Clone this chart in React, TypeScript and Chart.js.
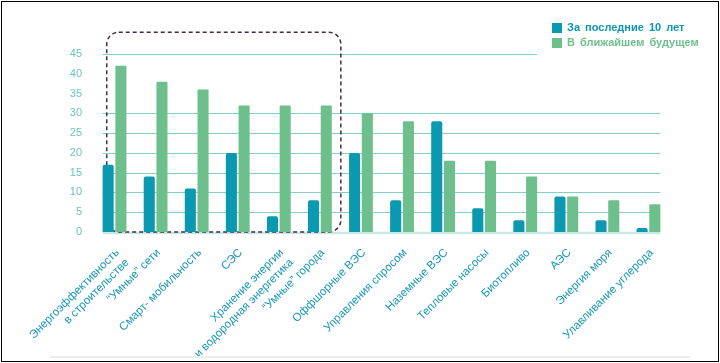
import { useEffect, useRef } from "react";
import { Chart, registerables } from "chart.js";

Chart.register(...registerables);

const categories: (string | string[])[] = [
  ["Энергоэффективность", "в строительстве"],
  "“Умные” сети",
  "Смарт- мобильность",
  "СЭС",
  ["Хранение энергии", "и водородная энергетика"],
  "“Умные” города",
  "Оффшорные ВЭС",
  "Управления спросом",
  "Наземные ВЭС",
  "Тепловые насосы",
  "Биотопливо",
  "АЭС",
  "Энергия моря",
  "Улавливание углерода",
];

const seriesNames = ["За последние 10 лет", "В ближайшем будущем"];
const last10Years = [17, 14, 11, 20, 4, 8, 20, 8, 28, 6, 3, 9, 3, 1];
const nearFuture = [42, 38, 36, 32, 32, 32, 30, 28, 18, 18, 14, 9, 8, 7];

const yTickValues = [0, 5, 10, 15, 20, 25, 30, 35, 40, 45];
const hiddenGridValues = [35, 40];
const highlightFirst = 0;
const highlightLast = 5;
const highlightTopValue = 50.5;

const TEAL = "#0a99b0";
const GREEN = "#6dc08c";
const GRID = "#84d0c6";
const BASE = "#c6e9e3";
const FRAME = "#4a2b47";
const LEGEND_LEFT = 552;
const FONT = "'Liberation Sans', Arial, sans-serif";

const customDraw = {
  id: "customDraw",
  beforeDatasetsDraw(chart: any) {
    const { ctx } = chart;
    const x = chart.scales.x;
    const y = chart.scales.y;
    const m0 = chart.getDatasetMeta(0);
    const m1 = chart.getDatasetMeta(1);
    const first = m0.data[0];
    const last = m1.data[m1.data.length - 1];
    const left = first.x - first.width / 2;
    const right = last.x + last.width / 2;
    ctx.save();
    ctx.strokeStyle = GRID;
    ctx.lineWidth = 1.2;
    yTickValues.forEach((v) => {
      if (v === 0 || hiddenGridValues.includes(v)) return;
      const py = Math.round(y.getPixelForValue(v)) + 0.5;
      const r = v === yTickValues[yTickValues.length - 1] ? LEGEND_LEFT - 15 : right;
      ctx.beginPath();
      ctx.moveTo(left, py);
      ctx.lineTo(r, py);
      ctx.stroke();
    });
    const y0 = y.getPixelForValue(0);
    ctx.strokeStyle = BASE;
    ctx.lineWidth = 2.5;
    ctx.beginPath();
    ctx.moveTo(left, y0 + 1);
    ctx.lineTo(right, y0 + 1);
    ctx.stroke();
    const cw = x.getPixelForValue(1) - x.getPixelForValue(0);
    const fl = x.getPixelForValue(highlightFirst) - 0.19 * cw;
    const fr = x.getPixelForValue(highlightLast) + 0.51 * cw;
    const ft = y.getPixelForValue(highlightTopValue);
    const fb = y0;
    const rad = 12;
    ctx.strokeStyle = FRAME;
    ctx.lineWidth = 1.5;
    ctx.setLineDash([4, 3]);
    ctx.beginPath();
    ctx.moveTo(fl + rad, ft);
    ctx.lineTo(fr - rad, ft);
    ctx.arcTo(fr, ft, fr, ft + rad, rad);
    ctx.lineTo(fr, fb - rad);
    ctx.arcTo(fr, fb, fr - rad, fb, rad);
    ctx.lineTo(fl + rad, fb);
    ctx.arcTo(fl, fb, fl, fb - rad, rad);
    ctx.lineTo(fl, ft + rad);
    ctx.arcTo(fl, ft, fl + rad, ft, rad);
    ctx.closePath();
    ctx.stroke();
    ctx.restore();
  },
};

export default function App() {
  const canvasRef = useRef<HTMLCanvasElement | null>(null);

  useEffect(() => {
    document.body.style.margin = "0";
    const canvas = canvasRef.current;
    if (!canvas) return;
    const chart = new Chart(canvas, {
      type: "bar",
      data: {
        labels: categories,
        datasets: [
          {
            label: seriesNames[0],
            data: last10Years,
            backgroundColor: TEAL,
            borderRadius: { topLeft: 2, topRight: 2 },
            borderSkipped: "start",
          },
          {
            label: seriesNames[1],
            data: nearFuture,
            backgroundColor: GREEN,
            borderRadius: { topLeft: 1, topRight: 1 },
            borderSkipped: "start",
          },
        ],
      },
      options: {
        responsive: false,
        animation: false,
        devicePixelRatio: 1,
        layout: { padding: { top: 54, right: 51, left: 0, bottom: 0 } },
        datasets: {
          bar: { categoryPercentage: 0.62, barPercentage: 0.87 },
        },
        plugins: {
          legend: { display: false },
          tooltip: { enabled: false },
        },
        scales: {
          x: {
            grid: { display: false, drawTicks: false },
            border: { display: false },
            afterFit: (s: any) => {
              s.height = 131;
            },
            ticks: {
              color: "#1797b5",
              font: { family: FONT, size: 11.5 },
              minRotation: 45,
              maxRotation: 45,
              autoSkip: false,
              padding: 14,
              labelOffset: 3,
            },
          },
          y: {
            min: 0,
            max: 45,
            grid: { display: false, drawTicks: false },
            border: { display: false },
            afterFit: (s: any) => {
              s.width = 94;
            },
            ticks: {
              stepSize: 5,
              color: "#6cc5bc",
              font: { family: FONT, size: 11 },
              padding: 12,
            },
          },
        },
      },
      plugins: [customDraw],
    });
    return () => chart.destroy();
  }, []);

  return (
    <div style={{ position: "relative", width: 720, height: 363, background: "#fff", overflow: "hidden" }}>
      <canvas ref={canvasRef} width={720} height={363} style={{ display: "block" }} />
      <div
        style={{
          position: "absolute",
          left: LEGEND_LEFT,
          top: 20,
          fontFamily: FONT,
          fontWeight: "bold",
          fontSize: 11,
          lineHeight: "15px",
        }}
      >
        {seriesNames.map((name, i) => (
          <div key={name} style={{ display: "flex", alignItems: "center", color: i === 0 ? TEAL : GREEN }}>
            <span style={{ display: "inline-block", width: 10, height: 10, background: i === 0 ? TEAL : GREEN, marginRight: 5 }} />
            <span style={{ wordSpacing: 2 }}>{name}</span>
          </div>
        ))}
      </div>
      <div style={{ position: "absolute", left: 50, top: 356, width: 640, height: 2, background: "#ececec" }} />
      <div
        style={{
          position: "absolute",
          left: 1,
          top: 1,
          width: 718,
          height: 361,
          border: "1.5px solid #000",
          boxSizing: "border-box",
          pointerEvents: "none",
        }}
      />
    </div>
  );
}
